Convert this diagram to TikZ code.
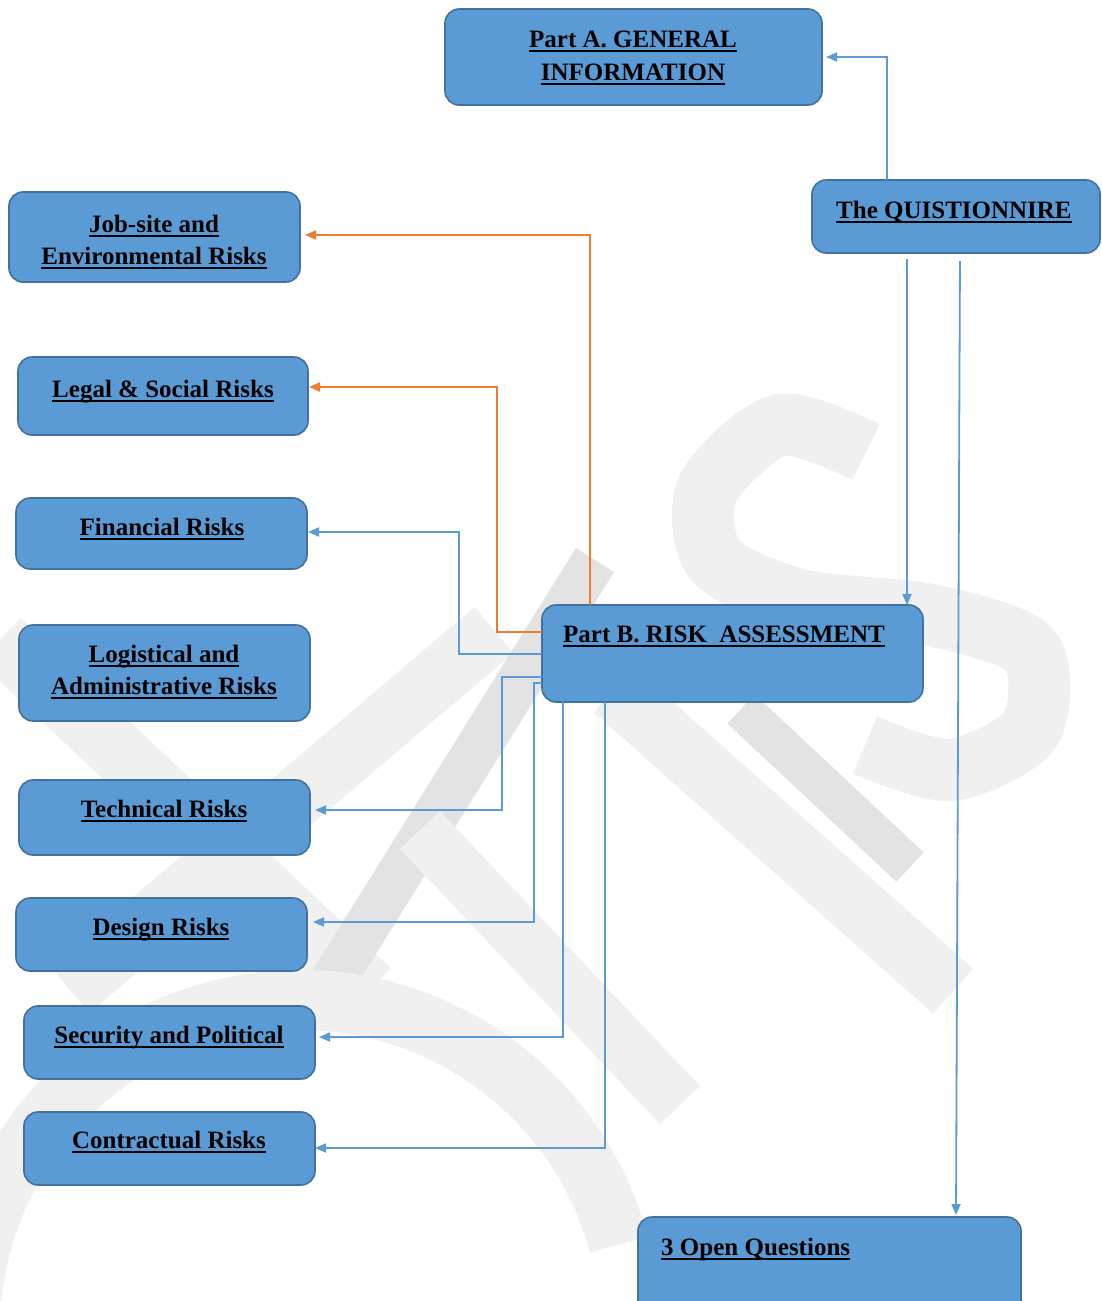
\documentclass[tikz,border=0pt]{standalone}
\usepackage{fontspec}
\setmainfont{Liberation Serif}
\usetikzlibrary{arrows.meta,calc}
\definecolor{boxfill}{HTML}{5B9BD5}
\definecolor{boxline}{HTML}{41719C}
\definecolor{conblue}{HTML}{5B9BD5}
\definecolor{conorange}{HTML}{ED7D31}
\definecolor{wmlight}{HTML}{F0F0F0}
\definecolor{wmdark}{HTML}{E3E3E3}
\newcommand\myul[1]{\begingroup\setbox0=\hbox{#1}\rlap{\rule[-4.6pt]{\wd0}{2pt}}\box0\endgroup}
\tikzset{
  riskbox/.style={draw=boxline, fill=boxfill, line width=1.6pt, rounded corners=14pt,
    inner sep=0pt, outer sep=0pt, anchor=north west},
  lbl/.style={font=\fontsize{25}{33}\selectfont\bfseries, inner sep=0pt, align=center, text=black},
  bluecon/.style={draw=conblue, line width=1.8pt, -{Triangle[length=11pt,width=9pt]}},
  orangecon/.style={draw=conorange, line width=1.8pt, -{Triangle[length=11pt,width=9pt]}},
  wm/.style={line cap=butt}
}
\begin{document}
\begin{tikzpicture}[x=1pt,y=-1pt]
\useasboundingbox (0,0) rectangle (1101,1301);
\clip (0,0) rectangle (1101,1301);
\fill[white] (0,0) rectangle (1101,1301);
% watermark
\draw[wm, wmlight, line width=60pt] (0,640) -- (370,990);
\draw[wm, wmlight, line width=60pt] (494,630) -- (70,990);
\draw[wm, wmdark, line width=45pt] (595,560) -- (330,985);
\draw[wm, wmlight, line width=55pt] (420,830) -- (680,1105);
\draw[wm, wmlight, line width=60pt] (614,690) -- (953,991);
\draw[wm, wmdark, line width=40pt] (741,709) -- (910,867);
\draw[wm, wmlight, line width=62pt] plot[smooth] coordinates {(866,452) (780,425) (708,488) (715,560) (800,600) (930,615) (1030,650) (1030,730) (950,770) (865,745)};
\draw[wm, wmlight, line width=60pt] (300,1330) ++(-15:330) arc[start angle=-15, end angle=-185, radius=330];

% boxes
\node[riskbox, minimum width=377pt, minimum height=96pt] (partA) at (445,9) {};
\node[riskbox, minimum width=288pt, minimum height=73pt] (quest) at (812,180) {};
\node[riskbox, minimum width=381pt, minimum height=97pt] (partB) at (542,605) {};
\node[riskbox, minimum width=383pt, minimum height=100pt] (open) at (638,1217) {};
\node[riskbox, minimum width=291pt, minimum height=90pt] (job) at (9,192) {};
\node[riskbox, minimum width=290pt, minimum height=78pt] (legal) at (18,357) {};
\node[riskbox, minimum width=291pt, minimum height=71pt] (fin) at (16,498) {};
\node[riskbox, minimum width=291pt, minimum height=96pt] (logi) at (19,625) {};
\node[riskbox, minimum width=291pt, minimum height=75pt] (tech) at (19,780) {};
\node[riskbox, minimum width=291pt, minimum height=73pt] (design) at (16,898) {};
\node[riskbox, minimum width=291pt, minimum height=73pt] (secu) at (24,1006) {};
\node[riskbox, minimum width=291pt, minimum height=73pt] (contr) at (24,1112) {};

% labels
\node[lbl, anchor=base] (partAt1) at (633,47) {\myul{Part A. GENERAL}};
\node[lbl, anchor=base] (partAt2) at (633,80) {\myul{INFORMATION}};
\node[lbl, anchor=base west] (questt) at (836,218) {\myul{The QUISTIONNIRE}};
\node[lbl, anchor=base west] (partBt) at (563,642) {\myul{Part B. RISK\ \ ASSESSMENT}};
\node[lbl, anchor=base west] (opent) at (661,1255) {\myul{3 Open Questions}};
\node[lbl, anchor=base] (jobt1) at (154,232) {\myul{Job-site and}};
\node[lbl, anchor=base] (jobt2) at (154,264) {\myul{Environmental Risks}};
\node[lbl, anchor=base] (legalt) at (163,397) {\myul{Legal \& Social Risks}};
\node[lbl, anchor=base] (fint) at (162,535) {\myul{Financial Risks}};
\node[lbl, anchor=base] (logit1) at (164,662) {\myul{Logistical and}};
\node[lbl, anchor=base] (logit2) at (164,694) {\myul{Administrative Risks}};
\node[lbl, anchor=base] (techt) at (164,817) {\myul{Technical Risks}};
\node[lbl, anchor=base] (designt) at (161,935) {\myul{Design Risks}};
\node[lbl, anchor=base] (secut) at (169,1043) {\myul{Security and Political}};
\node[lbl, anchor=base] (contrt) at (169,1148) {\myul{Contractual Risks}};

% connectors
\draw[bluecon, shorten >=4pt] (quest.north -| 887,0) |- (partA.east);
\draw[bluecon, shorten <=6pt] (quest.south -| 907,0) -- (partB.north -| 907,0);
\draw[bluecon, shorten <=8pt, shorten >=2pt] (quest.south -| 960,0) -- (open.north -| 956,0);

\draw[orangecon, shorten >=5pt] (partB.north -| 590,0) |- (job.east |- 0,235);
\draw[orangecon, shorten >=1pt] (partB.west |- 0,632) -- (497,632) -- (497,387) -- (legal.east |- 0,387);
\draw[bluecon, shorten >=1pt] (partB.west |- 0,654) -- (459,654) -- (459,532) -- (fin.east |- 0,532);
\draw[bluecon, shorten >=5pt] (partB.west |- 0,677) -- (502,677) -- (502,810) -- (tech.east |- 0,810);
\draw[bluecon, shorten >=6pt] (partB.west |- 0,683) -- (534,683) -- (534,922) -- (design.east |- 0,922);
\draw[bluecon, shorten >=4pt] (partB.south -| 563,0) |- (secu.east |- 0,1037);
\draw[bluecon, shorten >=0pt] (partB.south -| 605,0) |- (contr.east |- 0,1148);
\end{tikzpicture}
\end{document}
